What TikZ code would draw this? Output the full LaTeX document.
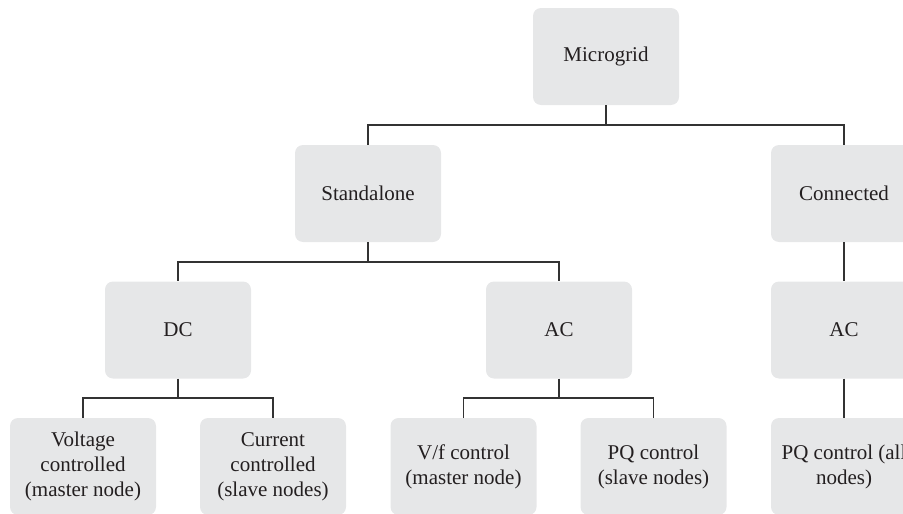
\documentclass[tikz,border=0pt]{standalone}
\usepackage{fontspec}
\setmainfont{Liberation Serif}
\begin{document}
\begin{tikzpicture}[x=1pt,y=-1pt,
  box/.style={draw=none,fill=boxgray,rounded corners=8pt,minimum width=146pt,
    minimum height=97pt,inner sep=0pt,align=center,text=txtgray,
    font=\fontsize{21}{25}\selectfont},
  link/.style={draw=linegray,line width=1.3pt}]
\definecolor{boxgray}{HTML}{E6E7E8}
\definecolor{txtgray}{HTML}{231F20}
\definecolor{linegray}{HTML}{333333}
\useasboundingbox (0,0) rectangle (903,514);
% top level
\node[box] (mg) at (606,56.5) {Microgrid};
% operating modes
\node[box] (sa) at (368,193.5) {Standalone};
\node[box] (cn) at (844,193.5) {Connected};
% bus types
\node[box] (dc) at (178,330) {DC};
\node[box] (ac) at (559,330) {AC};
\node[box] (ac2) at (844,330) {AC};
% control schemes
\node[box] (vc) at (83,466.5) {Voltage\\controlled\\(master node)};
\node[box] (cc) at (273,466.5) {Current\\controlled\\(slave nodes)};
\node[box] (vf) at (463.5,466.5) {V/f control\\(master node)};
\node[box] (pq) at (653.5,466.5) {PQ control\\(slave nodes)};
\node[box] (pqa) at (844,466.5) {PQ control (all\\nodes)};
% tree connectors
\draw[link] (mg.south) -- (mg.south |- 0,125) -| (sa.north);
\draw[link] (mg.south |- 0,125) -| (cn.north);
\draw[link] (sa.south) -- (sa.south |- 0,262) -| (dc.north);
\draw[link] (sa.south |- 0,262) -| (ac.north);
\draw[link] (cn.south) -- (ac2.north);
\draw[link] (dc.south) -- (dc.south |- 0,398) -| (vc.north);
\draw[link] (dc.south |- 0,398) -| (cc.north);
\draw[link] (ac.south) -- (ac.south |- 0,398) -| (vf.north);
\draw[link] (ac.south |- 0,398) -| (pq.north);
\draw[link] (ac2.south) -- (pqa.north);
\end{tikzpicture}
\end{document}
